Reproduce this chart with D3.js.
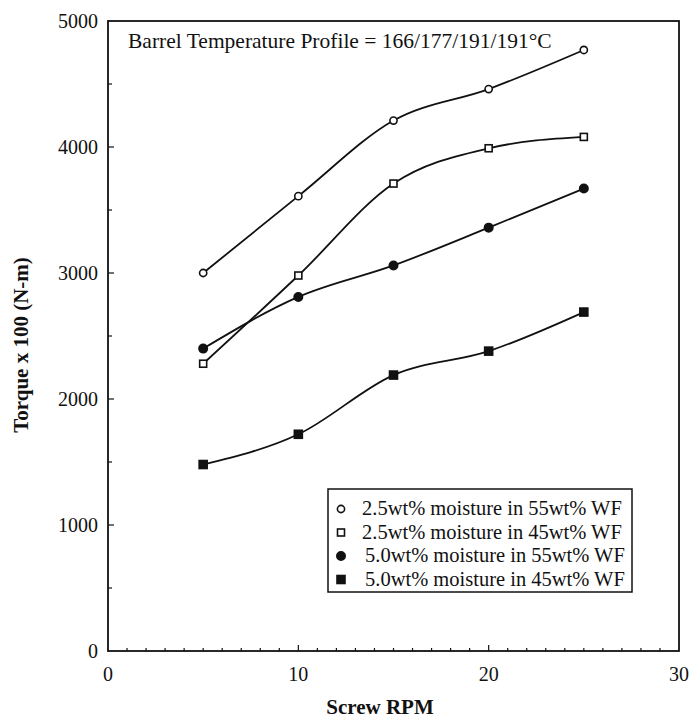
<!DOCTYPE html>
<html>
<head>
<meta charset="utf-8">
<script src="https://cdn.jsdelivr.net/npm/d3@7"></script>
<style>
  body { margin: 0; background: #fff; }
  svg { display: block; }
  text { font-family: "Liberation Serif", "Times New Roman", serif; fill: #111; }
</style>
</head>
<body>
<div id="chart"></div>
<script>
const rpm = [5, 10, 15, 20, 25];
const seriesNames = [
    "2.5wt% moisture in 55wt% WF",
    "2.5wt% moisture in 45wt% WF",
    "5.0wt% moisture in 55wt% WF",
    "5.0wt% moisture in 45wt% WF"
];
const torque25_55 = [3000, 3610, 4210, 4460, 4770];
const torque25_45 = [2280, 2980, 3710, 3990, 4080];
const torque50_55 = [2400, 2810, 3060, 3360, 3670];
const torque50_45 = [1480, 1720, 2190, 2380, 2690];
const markerTypes = ["openCircle", "openSquare", "circle", "square"];
const xTicks = [0, 10, 20, 30];
const yTicks = [0, 1000, 2000, 3000, 4000, 5000];
const titleText = "Barrel Temperature Profile = 166/177/191/191°C";

const width = 693, height = 718;
const margin = {top: 21, right: 14, bottom: 67, left: 108};

const svg = d3.select("#chart").append("svg")
    .attr("width", width)
    .attr("height", height);

const x = d3.scaleLinear().domain([0, 30]).range([margin.left, width - margin.right]);
const y = d3.scaleLinear().domain([0, 5000]).range([height - margin.bottom, margin.top]);

const allSeries = [torque25_55, torque25_45, torque50_55, torque50_45].map((vals, i) => ({
    name: seriesNames[i],
    type: markerTypes[i],
    points: rpm.map((r, j) => ({x: r, y: vals[j]}))
}));

// frame
svg.append("rect")
    .attr("x", x(0)).attr("y", y(5000))
    .attr("width", x(30) - x(0)).attr("height", y(0) - y(5000))
    .attr("fill", "none").attr("stroke", "#111").attr("stroke-width", 1.8);

// minor ticks, pointing inward
const tk = svg.append("g").attr("stroke", "#111").attr("stroke-width", 1.2);
d3.range(1, 30).forEach(v => {
    const len = v % 10 === 0 ? 6 : 3;
    tk.append("line").attr("x1", x(v)).attr("x2", x(v))
        .attr("y1", y(0)).attr("y2", y(0) - len);
});
d3.range(500, 5000, 500).forEach(v => {
    const len = v % 1000 === 0 ? 6 : 4;
    tk.append("line").attr("x1", x(0)).attr("x2", x(0) + len)
        .attr("y1", y(v)).attr("y2", y(v));
});

// tick labels
svg.append("g").selectAll("text")
    .data(xTicks).join("text")
    .attr("x", d => x(d)).attr("y", y(0) + 30)
    .attr("text-anchor", "middle")
    .style("font-size", "20px")
    .text(d => d);

svg.append("g").selectAll("text")
    .data(yTicks).join("text")
    .attr("x", x(0) - 10).attr("y", d => y(d) + 7)
    .attr("text-anchor", "end")
    .style("font-size", "20px")
    .text(d => d);

// axis titles
svg.append("text")
    .attr("x", 380).attr("y", 714)
    .attr("text-anchor", "middle")
    .style("font-size", "21px").style("font-weight", "bold")
    .text("Screw RPM");

svg.append("text")
    .attr("transform", "translate(28,345) rotate(-90)")
    .attr("text-anchor", "middle")
    .style("font-size", "21px").style("font-weight", "bold")
    .text("Torque x 100 (N-m)");

// title inside plot
svg.append("text")
    .attr("x", 128).attr("y", 48)
    .style("font-size", "21.5px")
    .text(titleText);

// lines
const line = d3.line()
    .x(d => x(d.x)).y(d => y(d.y))
    .curve(d3.curveMonotoneX);

svg.append("g").selectAll("path")
    .data(allSeries).join("path")
    .attr("d", d => line(d.points))
    .attr("fill", "none")
    .attr("stroke", "#111")
    .attr("stroke-width", 1.8);

function drawMarker(g, type, cx, cy) {
    if (type === "openCircle" || type === "circle") {
        g.append("circle").attr("cx", cx).attr("cy", cy)
            .attr("r", type === "circle" ? 4.2 : 3.6)
            .attr("fill", type === "circle" ? "#111" : "#fff")
            .attr("stroke", "#111").attr("stroke-width", 1.6);
    } else {
        const s = type === "square" ? 8 : 7;
        g.append("rect").attr("x", cx - s / 2).attr("y", cy - s / 2)
            .attr("width", s).attr("height", s)
            .attr("fill", type === "square" ? "#111" : "#fff")
            .attr("stroke", "#111").attr("stroke-width", 1.6);
    }
}

const marks = svg.append("g");
allSeries.forEach(s => {
    s.points.forEach(p => drawMarker(marks, s.type, x(p.x), y(p.y)));
});

// legend
const lg = svg.append("g");
lg.append("rect")
    .attr("x", 328).attr("y", 489)
    .attr("width", 304).attr("height", 103)
    .attr("fill", "#fff").attr("stroke", "#111").attr("stroke-width", 1.5);

allSeries.forEach((s, i) => {
    const cy = 509 + i * 23.5;
    drawMarker(lg, s.type, 341, cy);
    lg.append("text")
        .attr("x", i < 2 ? 362 : 365).attr("y", cy + 6)
        .style("font-size", "20.5px")
        .text(s.name);
});
</script>
</body>
</html>
